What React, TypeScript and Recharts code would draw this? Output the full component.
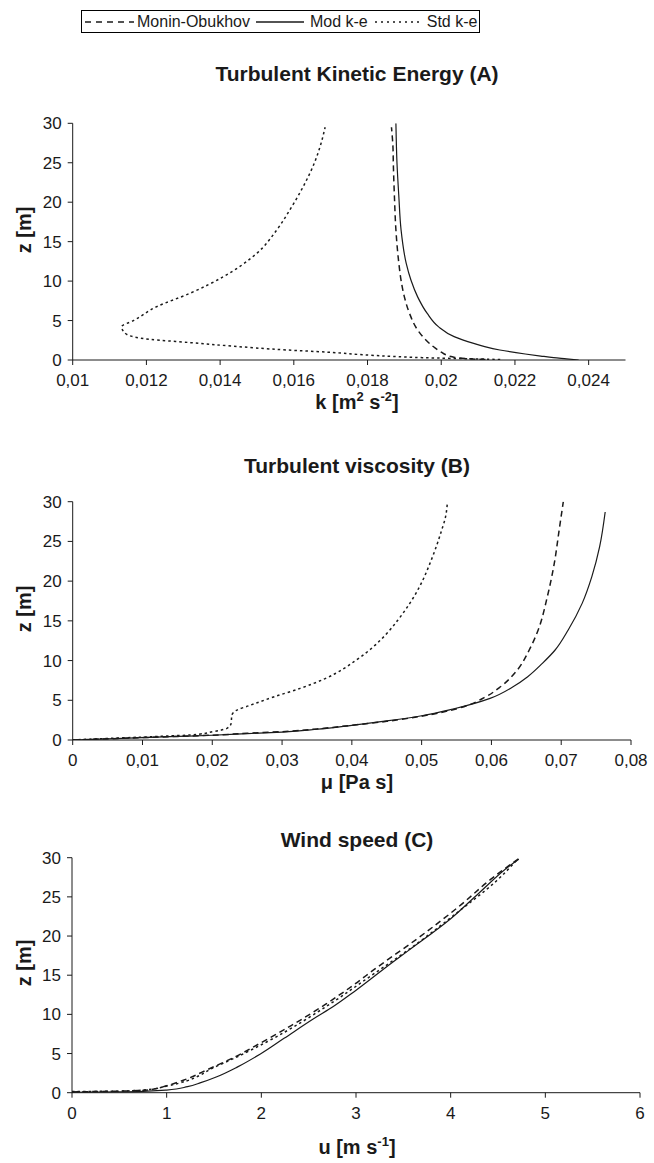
import React from 'react';
import { LineChart, Line, XAxis, YAxis } from 'recharts';

const FONT = '"Liberation Sans", Arial, Helvetica, sans-serif';
const INK = '#1a1a1a';

// ---------- shared ----------
const zTicks = [0, 5, 10, 15, 20, 25, 30];

// ---------- (A) Turbulent kinetic energy ----------
const kTicks = [0.01, 0.012, 0.014, 0.016, 0.018, 0.02, 0.022, 0.024];
const kTickLabels = ['0,01', '0,012', '0,014', '0,016', '0,018', '0,02', '0,022', '0,024'];

const kMonin = [
  { z: 0.05, x: 0.0212 }, { z: 0.17, x: 0.0207 }, { z: 0.4, x: 0.0203 }, { z: 0.63, x: 0.02014 },
  { z: 1.0, x: 0.02 }, { z: 1.5, x: 0.01984 }, { z: 2.5, x: 0.01959 }, { z: 3.8, x: 0.01936 },
  { z: 5.9, x: 0.01914 }, { z: 8.0, x: 0.019 }, { z: 10.1, x: 0.01891 }, { z: 12.25, x: 0.01885 },
  { z: 16.5, x: 0.01877 }, { z: 20.7, x: 0.01873 }, { z: 24.9, x: 0.0187 }, { z: 27.0, x: 0.01869 },
  { z: 29.5, x: 0.01865 },
];
const kMod = [
  { z: 0.0, x: 0.02373 }, { z: 0.15, x: 0.0234 }, { z: 0.3, x: 0.02305 }, { z: 0.5, x: 0.0227 },
  { z: 0.76, x: 0.02228 }, { z: 1.27, x: 0.02159 }, { z: 1.7, x: 0.02118 }, { z: 2.1, x: 0.02088 },
  { z: 2.96, x: 0.02035 }, { z: 4.2, x: 0.01993 }, { z: 5.9, x: 0.01962 }, { z: 8.0, x: 0.01936 },
  { z: 10.1, x: 0.01918 }, { z: 12.25, x: 0.01905 }, { z: 16.5, x: 0.01891 }, { z: 20.7, x: 0.01885 },
  { z: 24.9, x: 0.0188 }, { z: 30.0, x: 0.01877 },
];
const kStd = [
  { z: 0.05, x: 0.0216 }, { z: 0.1, x: 0.0213 }, { z: 0.2, x: 0.0203 }, { z: 0.3, x: 0.0195 },
  { z: 0.6, x: 0.0181 }, { z: 1.0, x: 0.0169 }, { z: 1.27, x: 0.0158 }, { z: 1.77, x: 0.0143 },
  { z: 2.2, x: 0.0132 }, { z: 2.62, x: 0.0121 }, { z: 2.95, x: 0.01164 }, { z: 3.5, x: 0.0114 },
  { z: 4.22, x: 0.01133 }, { z: 5.0, x: 0.01165 }, { z: 6.76, x: 0.01228 }, { z: 8.45, x: 0.01318 },
  { z: 10.56, x: 0.01409 }, { z: 13.5, x: 0.01499 }, { z: 16.5, x: 0.01554 }, { z: 19.4, x: 0.01594 },
  { z: 22.2, x: 0.01628 }, { z: 25.0, x: 0.01656 }, { z: 27.0, x: 0.01671 }, { z: 29.5, x: 0.01685 },
];

// ---------- (B) Turbulent viscosity ----------
const muTicks = [0, 0.01, 0.02, 0.03, 0.04, 0.05, 0.06, 0.07, 0.08];
const muTickLabels = ['0', '0,01', '0,02', '0,03', '0,04', '0,05', '0,06', '0,07', '0,08'];

const muMonin = [
  { z: 0.0, x: 0.0 }, { z: 0.15, x: 0.005 }, { z: 0.3, x: 0.01 }, { z: 0.45, x: 0.015 },
  { z: 0.6, x: 0.02 }, { z: 0.85, x: 0.025 }, { z: 1.05, x: 0.03 }, { z: 1.4, x: 0.035 },
  { z: 1.85, x: 0.04 }, { z: 2.35, x: 0.045 }, { z: 3.0, x: 0.05 }, { z: 4.0, x: 0.0553 },
  { z: 5.45, x: 0.0592 }, { z: 6.7, x: 0.0613 }, { z: 8.8, x: 0.0637 }, { z: 11.3, x: 0.0654 },
  { z: 13.85, x: 0.0667 }, { z: 18.0, x: 0.068 }, { z: 22.2, x: 0.069 }, { z: 26.4, x: 0.0697 },
  { z: 30.0, x: 0.0703 },
];
const muMod = [
  { z: 0.0, x: 0.0 }, { z: 0.15, x: 0.005 }, { z: 0.3, x: 0.01 }, { z: 0.45, x: 0.015 },
  { z: 0.6, x: 0.02 }, { z: 0.8, x: 0.025 }, { z: 1.0, x: 0.03 }, { z: 1.35, x: 0.035 },
  { z: 1.85, x: 0.04 }, { z: 2.4, x: 0.045 }, { z: 3.05, x: 0.05 }, { z: 3.9, x: 0.0545 },
  { z: 5.24, x: 0.0598 }, { z: 6.7, x: 0.0631 }, { z: 7.97, x: 0.0652 }, { z: 9.65, x: 0.0673 },
  { z: 11.3, x: 0.0691 }, { z: 13.85, x: 0.071 }, { z: 17.2, x: 0.073 }, { z: 20.6, x: 0.0744 },
  { z: 24.3, x: 0.0755 }, { z: 28.7, x: 0.0763 },
];
const muStd = [
  { z: 0.0, x: 0.0 }, { z: 0.2, x: 0.005 }, { z: 0.35, x: 0.0096 }, { z: 0.5, x: 0.0135 },
  { z: 0.63, x: 0.0168 }, { z: 1.05, x: 0.0201 }, { z: 1.47, x: 0.0221 }, { z: 2.1, x: 0.0227 },
  { z: 3.1, x: 0.0228 }, { z: 3.8, x: 0.0236 }, { z: 4.3, x: 0.0252 }, { z: 5.45, x: 0.0289 },
  { z: 6.5, x: 0.0326 }, { z: 7.7, x: 0.0361 }, { z: 10.1, x: 0.0407 }, { z: 11.75, x: 0.0431 },
  { z: 13.4, x: 0.045 }, { z: 15.1, x: 0.0466 }, { z: 17.2, x: 0.0483 }, { z: 19.3, x: 0.0497 },
  { z: 22.7, x: 0.0514 }, { z: 26.5, x: 0.0529 }, { z: 28.0, x: 0.0534 }, { z: 30.0, x: 0.0537 },
];

// ---------- (C) Wind speed ----------
const uTicks = [0, 1, 2, 3, 4, 5, 6];
const uTickLabels = ['0', '1', '2', '3', '4', '5', '6'];

const uMonin = [
  { z: 0.1, x: 0.0 }, { z: 0.2, x: 0.5 }, { z: 0.35, x: 0.8 }, { z: 0.9, x: 1.0 },
  { z: 1.7, x: 1.2 }, { z: 3.0, x: 1.44 }, { z: 4.5, x: 1.71 }, { z: 6.4, x: 2.0 },
  { z: 8.6, x: 2.32 }, { z: 11.3, x: 2.68 }, { z: 13.8, x: 2.98 }, { z: 15.8, x: 3.2 },
  { z: 19.6, x: 3.64 }, { z: 23.7, x: 4.08 }, { z: 27.4, x: 4.44 }, { z: 29.9, x: 4.72 },
];
const uMod = [
  { z: 0.05, x: 0.0 }, { z: 0.1, x: 0.5 }, { z: 0.2, x: 0.8 }, { z: 0.34, x: 1.0 },
  { z: 0.77, x: 1.22 }, { z: 1.28, x: 1.36 }, { z: 2.04, x: 1.53 }, { z: 3.3, x: 1.75 },
  { z: 4.94, x: 1.99 }, { z: 6.94, x: 2.24 }, { z: 9.5, x: 2.56 }, { z: 11.0, x: 2.76 },
  { z: 12.9, x: 2.98 }, { z: 16.6, x: 3.38 }, { z: 18.2, x: 3.56 }, { z: 22.2, x: 4.0 },
  { z: 25.5, x: 4.3 }, { z: 29.3, x: 4.66 }, { z: 29.8, x: 4.72 },
];
const uStd = [
  { z: 0.15, x: 0.0 }, { z: 0.2, x: 0.5 }, { z: 0.4, x: 0.8 }, { z: 0.85, x: 1.0 },
  { z: 3.4, x: 1.53 }, { z: 6.5, x: 2.06 }, { z: 11.6, x: 2.76 }, { z: 14.6, x: 3.12 },
  { z: 19.0, x: 3.64 }, { z: 23.1, x: 4.08 }, { z: 27.0, x: 4.48 }, { z: 29.7, x: 4.7 },
];

// ---------- styles ----------
const seriesStyle = {
  monin: { strokeDasharray: '6 4', strokeWidth: 1.5 },
  mod: { strokeWidth: 1.2 },
  std: { strokeDasharray: '2.5 3', strokeWidth: 1.5 },
};

type Pt = { x: number; z: number };

function labelFor(ticks: number[], labels: string[]) {
  return (v: number) => {
    const i = ticks.findIndex((t) => Math.abs(t - v) < 1e-9);
    return i >= 0 ? labels[i] : String(v);
  };
}

function Panel(props: {
  top: number;
  height: number;
  mTop: number;
  mRight: number;
  yWidth: number;
  xHeight: number;
  xDomain: [number, number];
  xTicks: number[];
  xLabels: string[];
  monin: Pt[];
  mod: Pt[];
  std: Pt[];
}) {
  const tickStyle = { fill: INK, fontSize: 17, fontFamily: FONT };
  return (
    <div style={{ position: 'absolute', left: 0, top: props.top }}>
      <LineChart
        width={654}
        height={props.height}
        margin={{ top: props.mTop, right: props.mRight, bottom: 0, left: 0 }}
      >
        <XAxis
          type="number"
          dataKey="x"
          domain={props.xDomain}
          ticks={props.xTicks}
          allowDataOverflow
          height={props.xHeight}
          tickSize={5}
          tickMargin={9}
          stroke={INK}
          tick={tickStyle}
          tickFormatter={labelFor(props.xTicks, props.xLabels)}
          interval={0}
        />
        <YAxis
          type="number"
          domain={[0, 30]}
          ticks={zTicks}
          allowDataOverflow
          width={props.yWidth}
          tickSize={5}
          tickMargin={6}
          stroke={INK}
          tick={tickStyle}
          interval={0}
        />
        <Line
          data={props.std}
          dataKey="z"
          type="monotoneY"
          stroke={INK}
          strokeWidth={seriesStyle.std.strokeWidth}
          strokeDasharray={seriesStyle.std.strokeDasharray}
          dot={false}
          activeDot={false}
          isAnimationActive={false}
        />
        <Line
          data={props.monin}
          dataKey="z"
          type="monotoneY"
          stroke={INK}
          strokeWidth={seriesStyle.monin.strokeWidth}
          strokeDasharray={seriesStyle.monin.strokeDasharray}
          dot={false}
          activeDot={false}
          isAnimationActive={false}
        />
        <Line
          data={props.mod}
          dataKey="z"
          type="monotoneY"
          stroke={INK}
          strokeWidth={seriesStyle.mod.strokeWidth}
          dot={false}
          activeDot={false}
          isAnimationActive={false}
        />
      </LineChart>
    </div>
  );
}

const centered = (x: number, y: number, extra: React.CSSProperties = {}): React.CSSProperties => ({
  position: 'absolute',
  left: x,
  top: y,
  transform: 'translate(-50%, -50%)',
  whiteSpace: 'nowrap',
  fontFamily: FONT,
  color: INK,
  lineHeight: 1,
  ...extra,
});

const titleStyle = (y: number) => centered(357, y, { fontSize: 21, fontWeight: 'bold' });
const xLabelStyle = (y: number) => centered(357, y, { fontSize: 20, fontWeight: 'bold' });
const zLabelStyle = (y: number) =>
  centered(24, y, { fontSize: 20, fontWeight: 'bold', transform: 'translate(-50%, -50%) rotate(-90deg)' });
const supStyle: React.CSSProperties = { fontSize: 13, verticalAlign: 'top', position: 'relative', top: -2 };

function LegendSample({ dash, width }: { dash?: string; width: number }) {
  return (
    <svg width={width} height={10} style={{ display: 'inline-block', verticalAlign: 'middle' }}>
      <line x1={0} y1={5} x2={width} y2={5} stroke={INK} strokeWidth={1.3} strokeDasharray={dash} />
    </svg>
  );
}

function Legend() {
  return (
    <div
      style={{
        position: 'absolute',
        left: 81,
        top: 10,
        width: 397,
        height: 21,
        border: '1px solid #000',
        fontFamily: FONT,
        fontSize: 16,
        color: INK,
        display: 'flex',
        alignItems: 'center',
        whiteSpace: 'nowrap',
        boxSizing: 'content-box',
      }}
    >
      <span style={{ marginLeft: 3 }}><LegendSample dash="6 5" width={49} /></span>
      <span style={{ marginLeft: 3 }}>Monin-Obukhov</span>
      <span style={{ marginLeft: 6 }}><LegendSample width={48} /></span>
      <span style={{ marginLeft: 6 }}>Mod k-e</span>
      <span style={{ marginLeft: 7 }}><LegendSample dash="2 4" width={48} /></span>
      <span style={{ marginLeft: 4 }}>Std k-e</span>
    </div>
  );
}

export default function App() {
  return (
    <div style={{ position: 'absolute', left: 0, top: 0, width: 654, height: 1163, background: '#fff', overflow: 'hidden' }}>
      <Legend />

      <div style={titleStyle(73)}>Turbulent Kinetic Energy (A)</div>
      <Panel
        top={100}
        height={300}
        mTop={23.3}
        mRight={28.5}
        yWidth={72.7}
        xHeight={40}
        xDomain={[0.01, 0.025]}
        xTicks={kTicks}
        xLabels={kTickLabels}
        monin={kMonin}
        mod={kMod}
        std={kStd}
      />
      <div style={zLabelStyle(230)}>z [m]</div>
      <div style={xLabelStyle(402)}>
        k [m<span style={supStyle}>2</span> s<span style={supStyle}>-2</span>]
      </div>

      <div style={titleStyle(465)}>Turbulent viscosity (B)</div>
      <Panel
        top={480}
        height={300}
        mTop={21.7}
        mRight={23}
        yWidth={72.7}
        xHeight={40}
        xDomain={[0, 0.08]}
        xTicks={muTicks}
        xLabels={muTickLabels}
        monin={muMonin}
        mod={muMod}
        std={muStd}
      />
      <div style={zLabelStyle(609)}>z [m]</div>
      <div style={xLabelStyle(782)}>μ [Pa s]</div>

      <div style={titleStyle(839)}>Wind speed (C)</div>
      <Panel
        top={830}
        height={300}
        mTop={27.7}
        mRight={14}
        yWidth={72}
        xHeight={37.3}
        xDomain={[0, 6]}
        xTicks={uTicks}
        xLabels={uTickLabels}
        monin={uMonin}
        mod={uMod}
        std={uStd}
      />
      <div style={zLabelStyle(963)}>z [m]</div>
      <div style={xLabelStyle(1147)}>
        u [m s<span style={supStyle}>-1</span>]
      </div>
    </div>
  );
}
